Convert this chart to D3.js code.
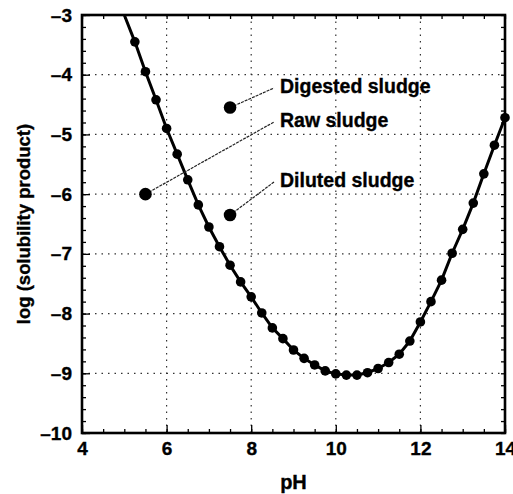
<!DOCTYPE html>
<html>
<head>
<meta charset="utf-8">
<script src="https://cdn.jsdelivr.net/npm/d3@7"></script>
<style>
  body { margin: 0; background: #fff; }
  svg { display: block; font-family: "Liberation Sans", Arial, sans-serif; font-weight: bold; }
  text { stroke: #000; stroke-width: 0.35px; }
</style>
</head>
<body>
<svg id="chart"></svg>
<script>
// solubility curve (pH step 0.25)
const phValues = [5.0, 5.25, 5.5, 5.75, 6.0, 6.25, 6.5, 6.75, 7.0, 7.25, 7.5, 7.75,
    8.0, 8.25, 8.5, 8.75, 9.0, 9.25, 9.5, 9.75, 10.0, 10.25, 10.5, 10.75,
    11.0, 11.25, 11.5, 11.75, 12.0, 12.25, 12.5, 12.75, 13.0, 13.25, 13.5, 13.75, 14.0];
const logValues = [-3.0, -3.45, -3.95, -4.42, -4.90, -5.33, -5.76, -6.18, -6.55, -6.88, -7.19, -7.47,
    -7.72, -7.99, -8.24, -8.42, -8.61, -8.75, -8.86, -8.96, -9.01, -9.03, -9.03, -8.99,
    -8.92, -8.82, -8.68, -8.46, -8.14, -7.80, -7.44, -6.99, -6.59, -6.15, -5.66, -5.18, -4.72];

// measured sludge points
const sludgeNames = ['Digested sludge', 'Raw sludge', 'Diluted sludge'];
const sludgePH = [7.5, 5.5, 7.5];
const sludgeLog = [-4.55, -6.0, -6.35];

const xTicks = [4, 6, 8, 10, 12, 14];
const xTickLabels = ['4', '6', '8', '10', '12', '14'];
const yTicks = [-3, -4, -5, -6, -7, -8, -9, -10];
const yTickLabels = ['\u20133', '\u20134', '\u20135', '\u20136', '\u20137', '\u20138', '\u20139', '\u201310'];
const gridX = [6, 8, 10, 12];
const gridY = [-4, -5, -6, -7, -8, -9];

const width = 513;
const height = 494;
const margin = { top: 15, right: 8, bottom: 61, left: 82 };

const x = d3.scaleLinear()
    .domain([4, 14])
    .range([margin.left, width - margin.right]);

const y = d3.scaleLinear()
    .domain([-10, -3])
    .range([height - margin.bottom, margin.top]);

const svg = d3.select('#chart')
    .attr('width', width)
    .attr('height', height);

// dotted grid
const grid = svg.append('g')
    .attr('stroke', '#333')
    .attr('stroke-width', 1.2)
    .attr('stroke-dasharray', '1.5,5');

grid.selectAll('.gx')
    .data(gridX)
    .join('line')
        .attr('x1', d => x(d))
        .attr('x2', d => x(d))
        .attr('y1', y(-3))
        .attr('y2', y(-10));

grid.selectAll('.gy')
    .data(gridY)
    .join('line')
        .attr('class', 'gy')
        .attr('x1', x(4))
        .attr('x2', x(14))
        .attr('y1', d => y(d))
        .attr('y2', d => y(d));

// minor ticks
const xMinor = d3.range(4, 14.01, 0.5);
const yMinor = d3.range(-10, -2.99, 0.2);

const styleAxis = g => g
    .call(g => g.select('.domain').remove())
    .call(g => g.selectAll('.tick line').attr('stroke', '#000').attr('stroke-width', 1.3));

svg.append('g')
    .attr('transform', `translate(0,${y(-10)})`)
    .call(d3.axisBottom(x).tickValues(xMinor).tickSize(-4).tickFormat(''))
    .call(styleAxis);
svg.append('g')
    .attr('transform', `translate(0,${y(-3)})`)
    .call(d3.axisTop(x).tickValues(xMinor).tickSize(-4).tickFormat(''))
    .call(styleAxis);
svg.append('g')
    .attr('transform', `translate(${x(4)},0)`)
    .call(d3.axisLeft(y).tickValues(yMinor).tickSize(-4).tickFormat(''))
    .call(styleAxis);
svg.append('g')
    .attr('transform', `translate(${x(14)},0)`)
    .call(d3.axisRight(y).tickValues(yMinor).tickSize(-4).tickFormat(''))
    .call(styleAxis);

// major axes with labels
svg.append('g')
    .attr('transform', `translate(0,${y(-10)})`)
    .call(d3.axisBottom(x).tickValues(xTicks).tickSize(-8).tickPadding(9)
        .tickFormat((d, i) => xTickLabels[i]))
    .call(styleAxis)
    .call(g => g.selectAll('text')
        .attr('fill', '#000')
        .attr('font-size', 19)
        .attr('font-family', '"Liberation Sans", Arial, sans-serif')
        .attr('font-weight', 'bold'));

svg.append('g')
    .attr('transform', `translate(${x(4)},0)`)
    .call(d3.axisLeft(y).tickValues(yTicks).tickSize(-8).tickPadding(10)
        .tickFormat((d, i) => yTickLabels[i]))
    .call(styleAxis)
    .call(g => g.selectAll('text')
        .attr('fill', '#000')
        .attr('font-size', 19)
        .attr('font-family', '"Liberation Sans", Arial, sans-serif')
        .attr('font-weight', 'bold'));

// frame
svg.append('rect')
    .attr('x', x(4))
    .attr('y', y(-3))
    .attr('width', x(14) - x(4))
    .attr('height', y(-10) - y(-3))
    .attr('fill', 'none')
    .attr('stroke', '#000')
    .attr('stroke-width', 2.6);

// curve
const curve = phValues.map((d, i) => ({ ph: d, v: logValues[i] }));

const line = d3.line()
    .x(d => x(d.ph))
    .y(d => y(d.v));

svg.append('path')
    .datum(curve)
    .attr('fill', 'none')
    .attr('stroke', '#000')
    .attr('stroke-width', 3)
    .attr('d', line);

svg.append('g')
    .selectAll('circle')
    .data(curve.filter(d => d.ph > 5))
    .join('circle')
        .attr('cx', d => x(d.ph))
        .attr('cy', d => y(d.v))
        .attr('r', 4.8)
        .attr('fill', '#000');

// sludge annotations
const labelX = 280;
const labelBase = [93, 127, 187];

const notes = svg.append('g');

notes.selectAll('line')
    .data(sludgeNames)
    .join('line')
        .attr('x1', (d, i) => x(sludgePH[i]))
        .attr('y1', (d, i) => y(sludgeLog[i]))
        .attr('x2', labelX - 6)
        .attr('y2', (d, i) => labelBase[i] - 5)
        .attr('stroke', '#222')
        .attr('stroke-width', 1.2)
        .attr('stroke-dasharray', '3,1');

notes.selectAll('circle')
    .data(sludgeNames)
    .join('circle')
        .attr('cx', (d, i) => x(sludgePH[i]))
        .attr('cy', (d, i) => y(sludgeLog[i]))
        .attr('r', 6.3)
        .attr('fill', '#000');

notes.selectAll('text')
    .data(sludgeNames)
    .join('text')
        .attr('x', labelX)
        .attr('y', (d, i) => labelBase[i])
        .attr('font-size', 19.5)
        .attr('fill', '#000')
        .text(d => d);

// axis titles
svg.append('text')
    .attr('x', (x(4) + x(14)) / 2)
    .attr('y', 489)
    .attr('text-anchor', 'middle')
    .attr('font-size', 20)
    .text('pH');

svg.append('text')
    .attr('transform', `translate(30,${(y(-3) + y(-10)) / 2}) rotate(-90)`)
    .attr('text-anchor', 'middle')
    .attr('font-size', 18.5)
    .text('log (solubility product)');
</script>
</body>
</html>
